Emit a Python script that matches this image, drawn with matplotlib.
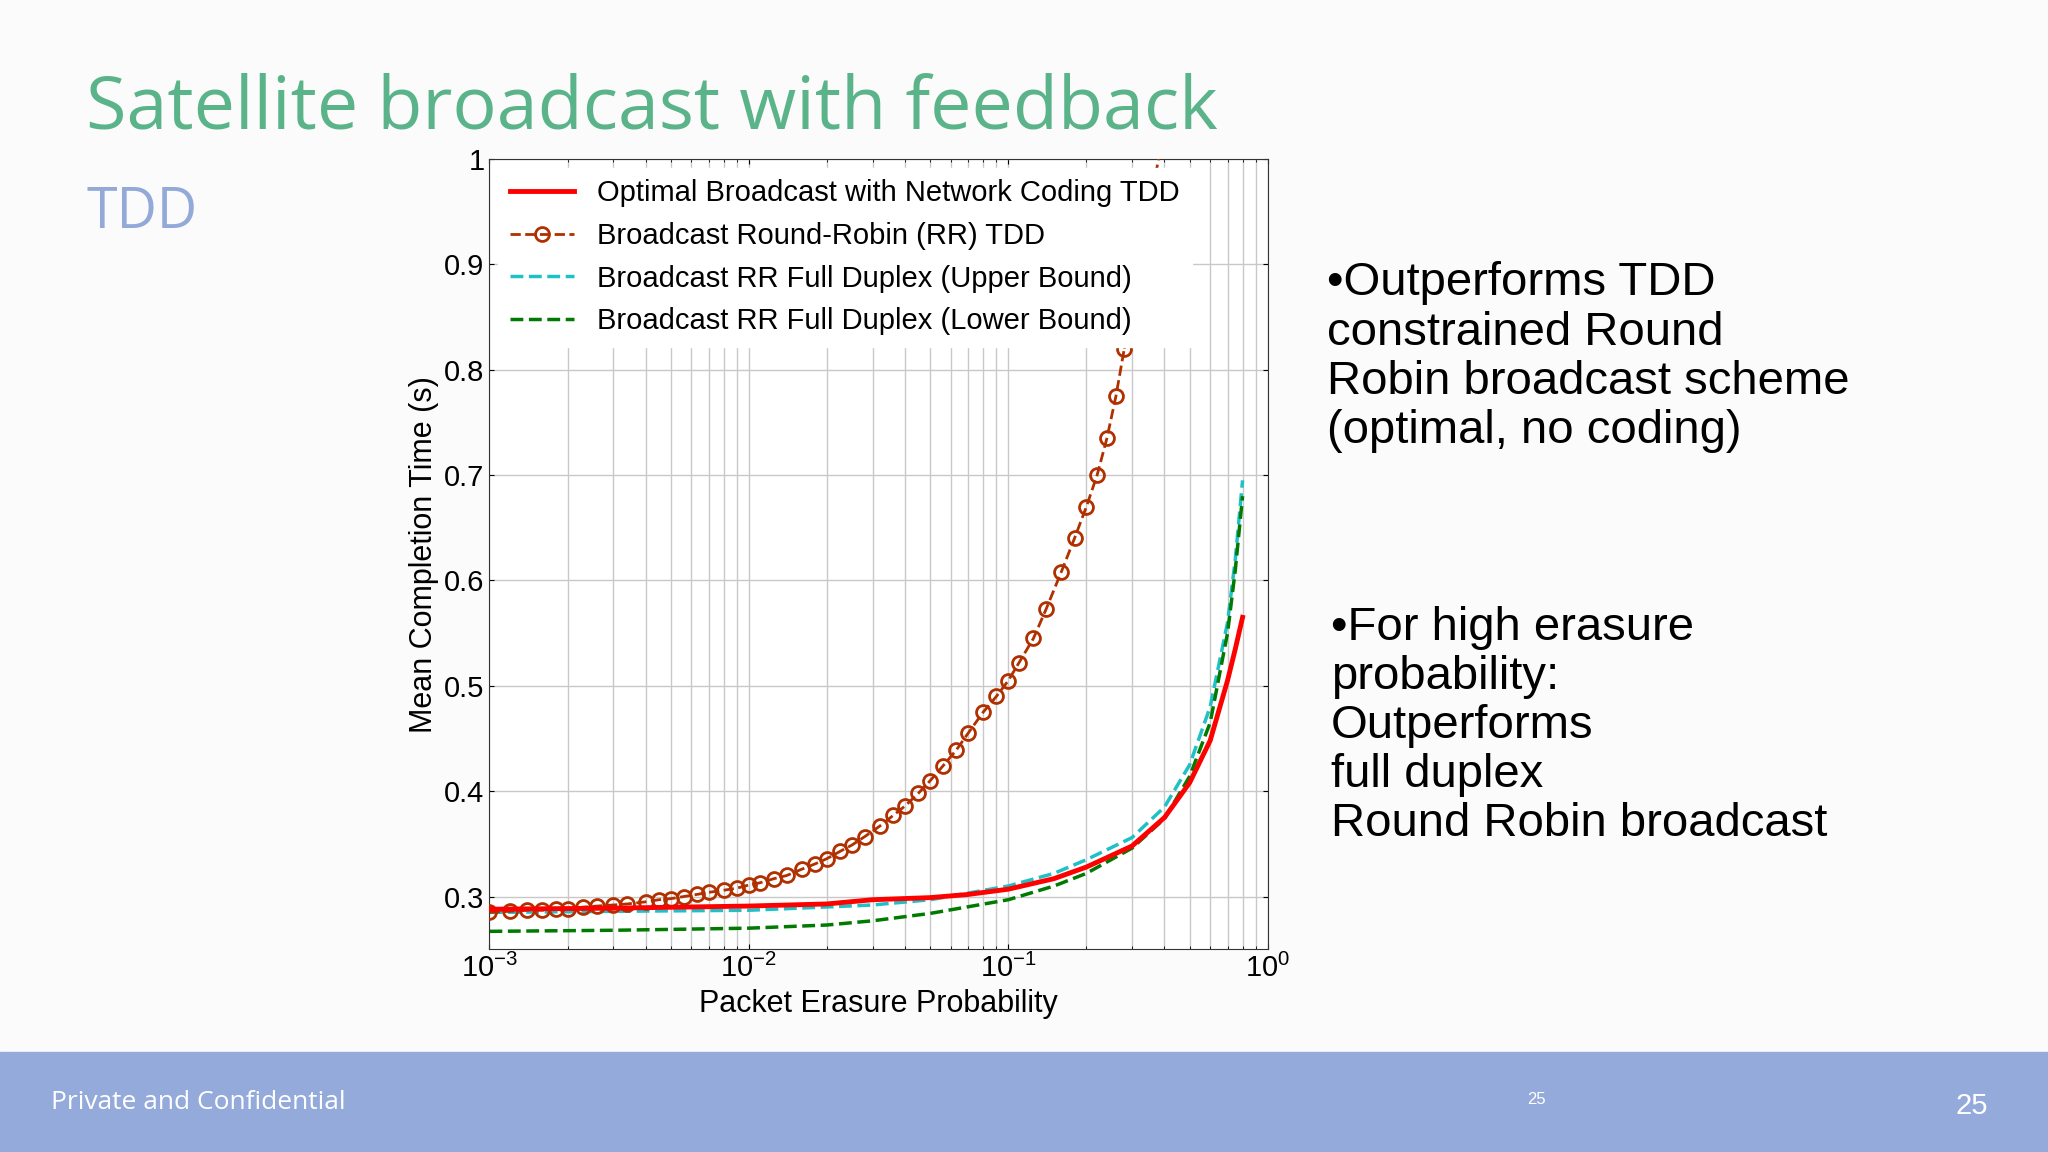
import matplotlib
matplotlib.use("Agg")
import matplotlib.pyplot as plt
from matplotlib.ticker import FixedLocator, NullFormatter

plt.rcParams['font.family'] = ['Liberation Sans', 'DejaVu Sans']
plt.rcParams['mathtext.fontset'] = 'custom'
plt.rcParams['mathtext.rm'] = 'Liberation Sans'

# Round-robin TDD (markers)
rr_x = [0.001, 0.0012, 0.0014, 0.0016, 0.0018, 0.002, 0.0023, 0.0026, 0.003, 0.0034, 0.004, 0.0045,
        0.005, 0.0056, 0.0063, 0.007, 0.008, 0.009, 0.01, 0.011, 0.0125, 0.014, 0.016, 0.018,
        0.02, 0.0225, 0.025, 0.028, 0.032, 0.036, 0.04, 0.045, 0.05, 0.056, 0.063, 0.07,
        0.08, 0.09, 0.1, 0.11, 0.125, 0.14, 0.16, 0.18, 0.2, 0.22, 0.24, 0.26, 0.28]
rr_y = [0.285, 0.286, 0.287, 0.287, 0.288, 0.288, 0.29, 0.291, 0.292, 0.293, 0.295, 0.297,
        0.298, 0.3, 0.302, 0.304, 0.306, 0.308, 0.311, 0.313, 0.317, 0.32, 0.326, 0.331,
        0.336, 0.343, 0.349, 0.357, 0.367, 0.377, 0.386, 0.398, 0.41, 0.424, 0.439, 0.455,
        0.475, 0.49, 0.505, 0.522, 0.545, 0.573, 0.608, 0.64, 0.67, 0.7, 0.735, 0.775, 0.82]
rr_tail_x = [0.28, 0.32, 0.36, 0.4]
rr_tail_y = [0.82, 0.9, 0.97, 1.03]

opt_x = [0.001, 0.003, 0.01, 0.02, 0.03, 0.05, 0.07, 0.1, 0.15, 0.2, 0.3, 0.4, 0.5, 0.6, 0.7, 0.75, 0.8]
opt_y = [0.288, 0.289, 0.291, 0.293, 0.297, 0.299, 0.302, 0.307, 0.317, 0.328, 0.348, 0.375, 0.408, 0.448, 0.505, 0.535, 0.565]

up_x = [0.001, 0.003, 0.01, 0.03, 0.05, 0.1, 0.15, 0.2, 0.3, 0.4, 0.5, 0.6, 0.7, 0.75, 0.8]
up_y = [0.285, 0.286, 0.287, 0.292, 0.297, 0.31, 0.322, 0.335, 0.356, 0.385, 0.425, 0.48, 0.56, 0.62, 0.695]

lo_x = [0.001, 0.003, 0.01, 0.02, 0.03, 0.05, 0.1, 0.15, 0.2, 0.3, 0.4, 0.5, 0.6, 0.7, 0.75, 0.8]
lo_y = [0.267, 0.268, 0.27, 0.273, 0.277, 0.284, 0.297, 0.31, 0.322, 0.346, 0.374, 0.414, 0.465, 0.55, 0.61, 0.68]

bg = "#fbfbfb"
fig = plt.figure(figsize=(20.48, 11.52), dpi=100, facecolor=bg)

# slide decorations
fig.text(0.042, 0.905, "Satellite broadcast with feedback", fontsize=53, color="#5bb38a",
         family="Open Sans", va="center")
fig.text(0.042, 0.815, "TDD", fontsize=40, color="#93a9d8", family="Open Sans", va="center")
fig.patches.append(plt.Rectangle((0, 0), 1, 0.087, transform=fig.transFigure, color="#94aadb", zorder=0))
fig.text(0.025, 0.043, "Private and Confidential", fontsize=19, color="white", va="center", family="Open Sans")
fig.text(0.75, 0.046, "25", fontsize=12, color="white", ha="center", va="center")
fig.text(0.963, 0.04, "25", fontsize=21, color="white", ha="center", va="center")
fig.text(0.648, 0.69, "•Outperforms TDD\nconstrained Round\nRobin broadcast scheme\n(optimal, no coding)",
         fontsize=34, va="center", linespacing=1.15)
fig.text(0.65, 0.37, "•For high erasure\nprobability:\nOutperforms\nfull duplex\nRound Robin broadcast",
         fontsize=34, va="center", linespacing=1.15)

ax = fig.add_axes([0.239, 0.176, 0.38, 0.686])
ax.set_facecolor("white")
ax.set_xscale("log")
ax.set_xlim(1e-3, 1)
ax.set_ylim(0.25, 1)

ax.plot(opt_x, opt_y, color="#ff0000", lw=3.5, label="Optimal Broadcast with Network Coding TDD", zorder=4)
ax.plot(rr_tail_x, rr_tail_y, "--", color="#b03000", lw=2, zorder=3)
ax.plot(rr_x, rr_y, "--o", color="#b03000", lw=2, ms=10, mfc="none", mew=2,
        label="Broadcast Round-Robin (RR) TDD", zorder=3)
ax.plot(up_x, up_y, "--", color="#20c0c8", lw=2.5, label="Broadcast RR Full Duplex (Upper Bound)", zorder=2)
ax.plot(lo_x, lo_y, "--", color="#007a00", lw=2.5, label="Broadcast RR Full Duplex (Lower Bound)", zorder=2)

ax.set_yticks([0.3, 0.4, 0.5, 0.6, 0.7, 0.8, 0.9, 1.0])
ax.set_yticklabels(["0.3", "0.4", "0.5", "0.6", "0.7", "0.8", "0.9", "1"])
ax.xaxis.set_minor_locator(FixedLocator([m * 10.0 ** e for e in (-3, -2, -1) for m in range(2, 10)]))
ax.xaxis.set_minor_formatter(NullFormatter())
ax.grid(True, which="both", color="#c8c8c8", lw=1)
ax.tick_params(which="both", direction="in", top=True, right=True, labelsize=21)
for s in ax.spines.values():
    s.set_color("#333333")
ax.set_xlabel("Packet Erasure Probability", fontsize=22)
ax.set_ylabel("Mean Completion Time (s)", fontsize=22)

leg = ax.legend(loc="upper left", fontsize=21, frameon=True, fancybox=False, framealpha=1,
                edgecolor="white", borderaxespad=0.3, handlelength=2.2)
leg.set_zorder(10)

fig.savefig("out.png", dpi=100, facecolor=bg)
